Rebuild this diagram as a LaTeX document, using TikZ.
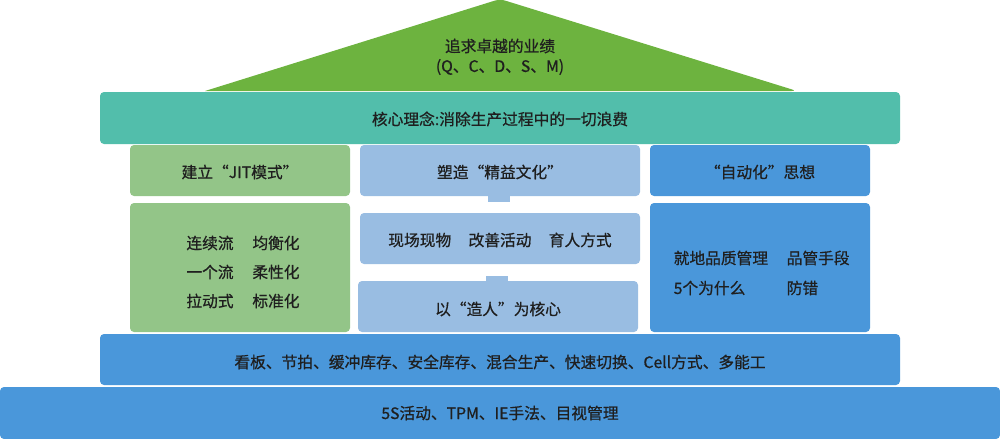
\documentclass[tikz,border=0pt]{standalone}
\usepackage{fontspec}
\newfontfamily\cjkm{Noto Sans CJK SC}[FakeBold=0.7]
\begin{document}
\begin{tikzpicture}[x=0.75pt,y=-0.75pt,
  box/.style={rounded corners=3pt,inner sep=0pt},
  txt/.style={font=\cjkm\fontsize{11.8}{14}\selectfont, text=black!88},
]
\definecolor{cTri}{HTML}{6DB33F}
\definecolor{cTeal}{HTML}{52BEAB}
\definecolor{cGreen}{HTML}{93C588}
\definecolor{cLight}{HTML}{99BDE2}
\definecolor{cBlue}{HTML}{4A97DA}
\useasboundingbox (0,0) rectangle (1000,439);
% roof
\fill[cTri,rounded corners=4pt] (205,91) -- (500,-1) -- (797,91) [sharp corners] -- cycle;
\node[txt] (roof1) at (500,46) {追求卓越的业绩};
\node[txt] (roof2) at (500,67) {(Q、C、D、S、M)};
% teal bar
\fill[cTeal,box] (100,92) rectangle (900,144);
\node[txt] (core) at (500,119) {核心理念:消除生产过程中的一切浪费};
% left column
\fill[cGreen,box] (130,145) rectangle (350,196);
\node[txt] (lh) at (240,172) {建立“JIT模式”};
\fill[cGreen,box] (130,203) rectangle (350,332);
\node[txt] (l1) at (210,243) {连续流};
\node[txt] (l2) at (210,272) {一个流};
\node[txt] (l3) at (210,301) {拉动式};
\node[txt] (l4) at (276,243) {均衡化};
\node[txt] (l5) at (276,272) {柔性化};
\node[txt] (l6) at (276,301) {标准化};
% middle column
\fill[cLight,box] (360,145) rectangle (640,196);
\node[txt] (mh) at (500,172) {塑造“精益文化”};
\fill[cLight] (488,195) rectangle (510,202);
\fill[cLight,box] (360,213) rectangle (640,264);
\node[txt] (m2) at (500,240) {现场现物\hspace{1.1em}改善活动\hspace{1.1em}育人方式};
\fill[cLight] (486,276) rectangle (508,283);
\fill[cLight,box] (358,281) rectangle (638,332);
\node[txt] (m3) at (498,309) {以“造人”为核心};
% right column
\fill[cBlue,box] (650,145) rectangle (870,196);
\node[txt] (rh) at (760,172) {“自动化”思想};
\fill[cBlue,box] (650,203) rectangle (870,332);
\node[txt,anchor=west] (r1) at (669,258) {就地品质管理};
\node[txt,anchor=west] (r2) at (782,258) {品管手段};
\node[txt,anchor=west] (r3) at (669,288) {5个为什么};
\node[txt,anchor=west] (r4) at (782,288) {防错};
% blue bars
\fill[cBlue,box] (100,334) rectangle (900,385);
\node[txt] (b1) at (500,362) {看板、节拍、缓冲库存、安全库存、混合生产、快速切换、Cell方式、多能工};
\fill[cBlue,box] (0,387) rectangle (1000,439);
\node[txt] (b2) at (500,413) {5S活动、TPM、IE手法、目视管理};
\end{tikzpicture}
\end{document}
